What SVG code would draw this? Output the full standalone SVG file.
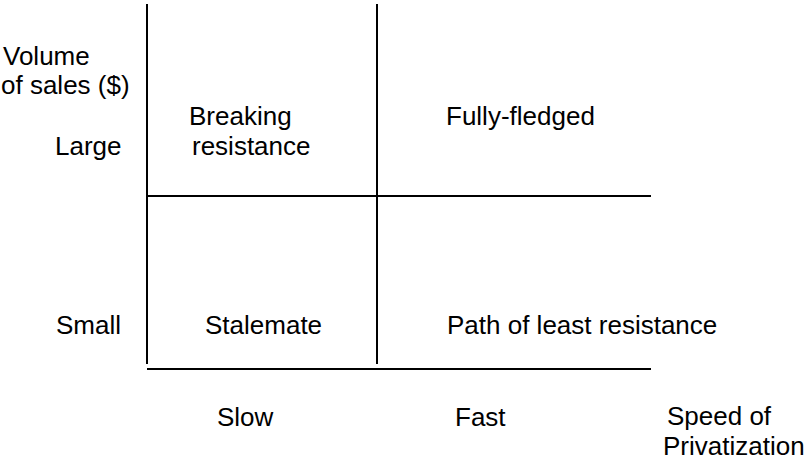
<svg xmlns="http://www.w3.org/2000/svg" width="806" height="460" viewBox="0 0 806 460">
<style>
text{font-family:"Liberation Sans",Arial,sans-serif;font-size:26px;fill:#000}
line{stroke:#000;stroke-width:2}
</style>
<rect width="806" height="460" fill="#fff"/>
<g id="connectors">
<line x1="147" y1="4" x2="147" y2="364"/>
<line x1="377" y1="4" x2="377" y2="364"/>
<line x1="147" y1="196" x2="651" y2="196"/>
<line x1="147" y1="369" x2="651" y2="369"/>
</g>
<g id="y-axis-label"><text x="3" y="65">Volume</text><text x="1" y="94">of sales ($)</text></g>
<g id="large"><text x="55" y="155">Large</text></g>
<g id="small"><text x="56" y="334">Small</text></g>
<g id="breaking-resistance"><text x="189" y="125">Breaking</text><text x="192" y="155">resistance</text></g>
<g id="fully-fledged"><text x="446" y="125">Fully-fledged</text></g>
<g id="stalemate"><text x="205" y="334">Stalemate</text></g>
<g id="path-of-least-resistance"><text x="447" y="334">Path of least resistance</text></g>
<g id="slow"><text x="217" y="426">Slow</text></g>
<g id="fast"><text x="455" y="426">Fast</text></g>
<g id="x-axis-label"><text x="667" y="425">Speed of</text><text x="663" y="455">Privatization</text></g>
</svg>
